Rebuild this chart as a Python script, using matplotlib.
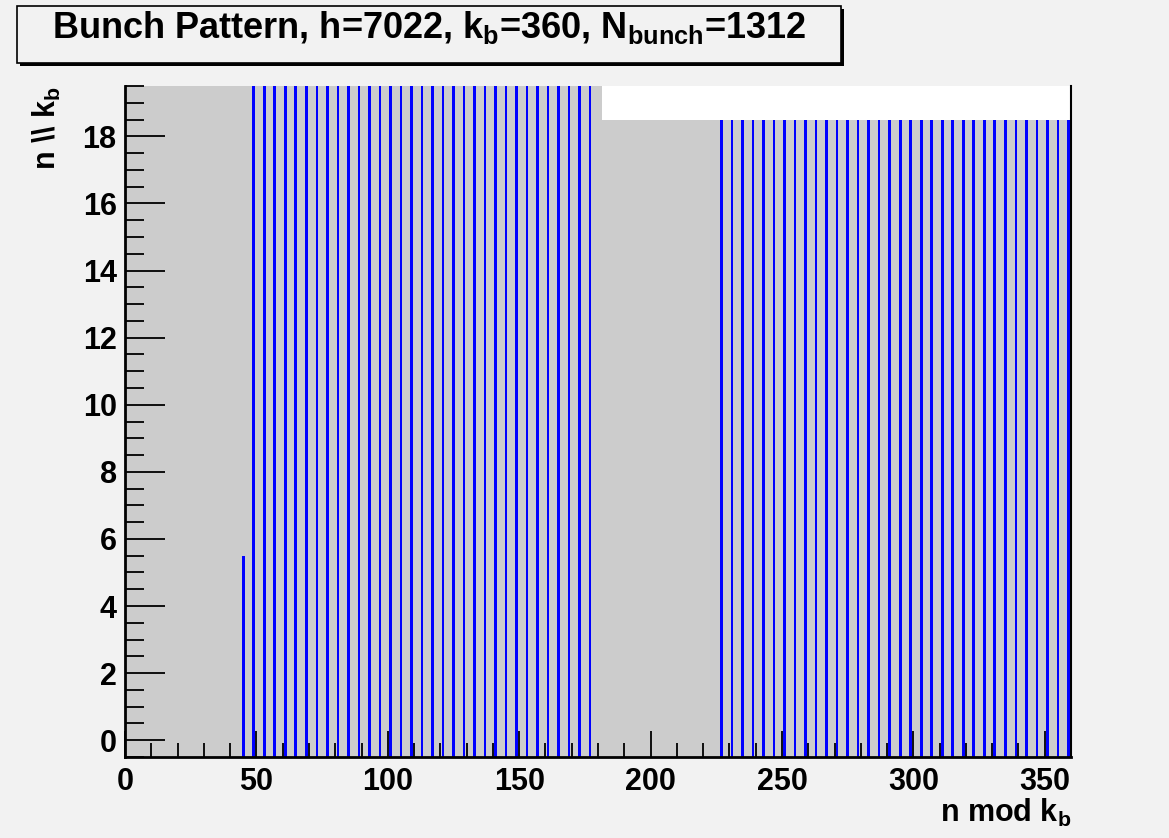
import numpy as np
import matplotlib
matplotlib.use("Agg")
import matplotlib.pyplot as plt
from matplotlib.patches import Rectangle
from matplotlib.ticker import MultipleLocator

plt.rcParams['font.family'] = ['Liberation Sans', 'DejaVu Sans']
plt.rcParams['font.weight'] = 'bold'
plt.rcParams['mathtext.fontset'] = 'custom'
plt.rcParams['mathtext.rm'] = 'Liberation Sans:bold'
plt.rcParams['mathtext.bf'] = 'Liberation Sans:bold'
plt.rcParams['mathtext.default'] = 'bf'

# bunch pattern: h = 7022 buckets folded with k_b = 360
h = 7022
kb = 360
n_bunch = 1312

# columns (n mod kb) that carry a bunch, and how many rows (n // kb) they fill
short_col = [45]
short_rows = 6
train1 = [49, 53, 57, 61, 65, 69, 73, 77, 81, 85, 89, 93, 97, 101, 105, 109, 113,
          117, 121, 125, 129, 133, 137, 141, 145, 149, 153, 157, 161, 165, 169, 173, 177]
train1_rows = 20
train2 = [227, 231, 235, 239, 243, 247, 251, 255, 259, 263, 267, 271, 275, 279, 283,
          287, 291, 295, 299, 303, 307, 311, 315, 319, 323, 327, 331, 335, 339, 343,
          347, 351, 355, 359]
train2_rows = 19

bg = '#f2f2f2'
fig = plt.figure(figsize=(11.69, 8.38), dpi=100, facecolor=bg)
ax = fig.add_axes([125/1169, 1 - 757/838, (1071-125)/1169, (757-86)/838])
ax.set_facecolor('#cccccc')

# last (incomplete) row: only h - 19*kb buckets exist
last_row = h // kb
ax.add_patch(Rectangle((h - last_row*kb - 0.5, last_row - 0.5), kb, 1,
                       facecolor='white', edgecolor='none', zorder=0.5))

w = 1.0
ax.bar(short_col, short_rows, bottom=-0.5, width=w, color='#0000ff', zorder=1)
ax.bar(train1, train1_rows, bottom=-0.5, width=w, color='#0000ff', zorder=1)
ax.bar(train2, train2_rows, bottom=-0.5, width=w, color='#0000ff', zorder=1)

ax.set_xlim(0, 360)
ax.set_ylim(-0.5, 19.5)

ax.xaxis.set_major_locator(MultipleLocator(50))
ax.xaxis.set_minor_locator(MultipleLocator(10))
ax.yaxis.set_major_locator(MultipleLocator(2))
ax.yaxis.set_minor_locator(MultipleLocator(0.5))
ax.tick_params(axis='x', which='major', direction='in', length=19, width=1.3,
               labelsize=22, pad=7)
ax.tick_params(axis='x', which='minor', direction='in', length=10, width=1.3)
ax.tick_params(axis='y', which='major', direction='in', length=29, width=1.3,
               labelsize=22, pad=6)
ax.tick_params(axis='y', which='minor', direction='in', length=14, width=1.3)
for lab in ax.get_xticklabels() + ax.get_yticklabels():
    lab.set_fontweight('bold')

ax.spines['top'].set_visible(False)
ax.spines['left'].set_linewidth(2)
ax.spines['bottom'].set_linewidth(2)
ax.spines['right'].set_linewidth(1.5)

ax.set_xlabel(r'n mod k$_\mathbf{b}$', loc='right', fontsize=22,
              fontweight='bold', labelpad=0)
ax.set_ylabel(r'n \\ k$_\mathbf{b}$', loc='top', fontsize=22,
              fontweight='bold', labelpad=14)

# title box with shadow, as ROOT draws it
fw, fh = 1169, 838
x0, y0, x1, y1 = 17, 6, 841, 63
fig.patches.append(Rectangle(((x0+3)/fw, 1 - (y1+3)/fh), (x1-x0)/fw, (y1-y0)/fh,
                             transform=fig.transFigure, facecolor='black',
                             edgecolor='none', zorder=1))
fig.patches.append(Rectangle((x0/fw, 1 - y1/fh), (x1-x0)/fw, (y1-y0)/fh,
                             transform=fig.transFigure, facecolor=bg,
                             edgecolor='black', linewidth=1.2, zorder=2))
fig.text((x0+x1)/2/fw, 1 - 38/fh,
         r'Bunch Pattern, h=7022, k$_\mathbf{b}$=360, N$_\mathbf{bunch}$=1312',
         ha='center', va='baseline', fontsize=26, fontweight='bold', zorder=3)

fig.savefig('out.png', dpi=100, facecolor=bg)
